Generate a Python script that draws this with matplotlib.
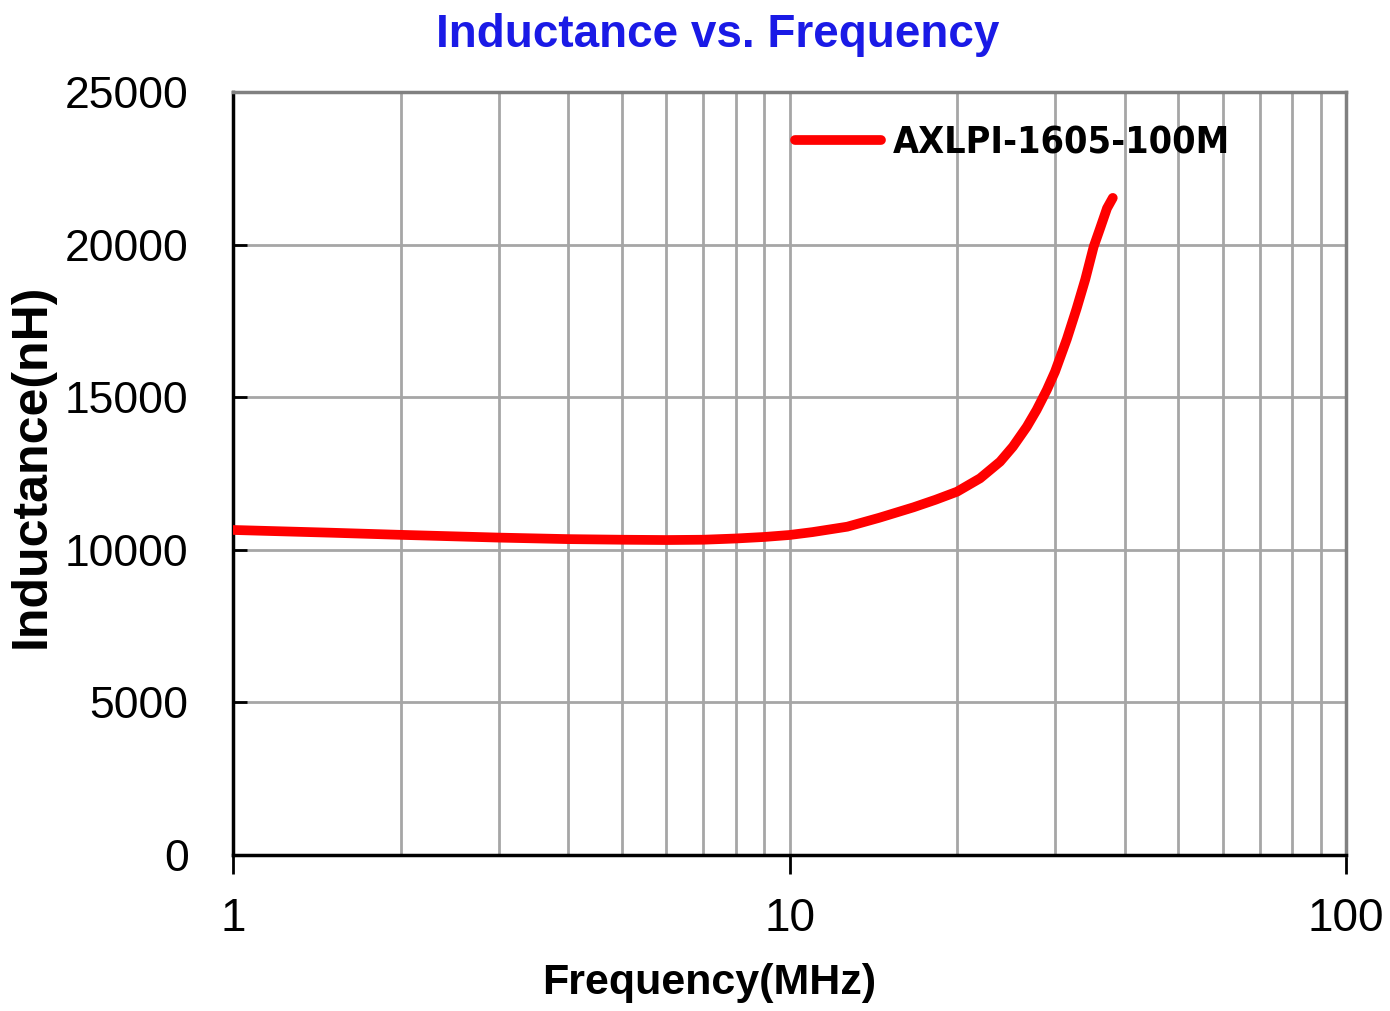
import matplotlib
matplotlib.use("Agg")
import matplotlib.pyplot as plt
from matplotlib.ticker import LogLocator, FixedLocator, NullFormatter, FixedFormatter

# ---- data ----
freq_mhz = [1, 1.5, 2, 3, 4, 5, 6, 7, 8, 9, 10, 11, 12.7, 14.5, 16.7, 18.3, 20,
            22, 23.9, 25.2, 26.7, 27.8, 29, 30, 31.5, 32.8, 34, 35.2, 36.1,
            37.2, 38.1]
inductance_nh = [10650, 10560, 10490, 10400, 10350, 10330, 10320, 10330, 10370,
                 10420, 10485, 10580, 10757, 11050, 11392, 11640, 11904, 12342,
                 12887, 13378, 14034, 14581, 15236, 15836, 16900, 17900, 18860,
                 19930, 20500, 21190, 21530]
series_name = "AXLPI-1605-100M"
x_ticks = [1, 10, 100]
x_tick_labels = ["1", "10", "100"]
y_ticks = [0, 5000, 10000, 15000, 20000, 25000]
y_tick_labels = ["0", "5000", "10000", "15000", "20000", "25000"]

sans = ["Liberation Sans", "DejaVu Sans"]

fig = plt.figure(figsize=(13.9, 10.11), dpi=100)
ax = fig.add_axes([233/1390, 1 - 855/1011, (1346-233)/1390, (855-92)/1011])

ax.plot(freq_mhz, inductance_nh, color="#ff0000", lw=7, solid_capstyle="round",
        solid_joinstyle="round", label=series_name, zorder=3)

ax.set_xscale("log")
ax.set_xlim(1, 100)
ax.set_ylim(0, 25000)
ax.xaxis.set_major_locator(FixedLocator(x_ticks))
ax.xaxis.set_major_formatter(FixedFormatter(x_tick_labels))
ax.xaxis.set_minor_locator(LogLocator(base=10, subs=range(2, 10)))
ax.xaxis.set_minor_formatter(NullFormatter())
ax.yaxis.set_major_locator(FixedLocator(y_ticks))
ax.yaxis.set_major_formatter(FixedFormatter(y_tick_labels))

ax.grid(True, which="both", axis="x", color="#a6a6a6", lw=2)
ax.grid(True, which="major", axis="y", color="#a6a6a6", lw=2)
ax.set_axisbelow(True)

for s in ["left", "bottom"]:
    ax.spines[s].set_color("black")
    ax.spines[s].set_linewidth(2.5)
for s in ["top", "right"]:
    ax.spines[s].set_color("#808080")
    ax.spines[s].set_linewidth(2.5)

ax.tick_params(axis="x", which="major", direction="out", length=14, width=2,
               pad=16, labelsize=33)
ax.tick_params(axis="x", which="minor", length=0)
ax.tick_params(axis="y", which="major", direction="in", length=10, width=2,
               pad=32, labelsize=32)
for lab in ax.get_xticklabels() + ax.get_yticklabels():
    lab.set_family(sans)

ax.text(0.428, -0.168, "Frequency(MHz)", transform=ax.transAxes, ha="center",
        va="center", fontsize=31, fontweight="bold", family=sans)
ax.text(-0.181, 0.51, "Inductance(nH)", transform=ax.transAxes, ha="center",
        va="center", rotation=90, fontsize=36, fontweight="bold", family=sans)
fig.text(718/1390, 1 - 35/1011, "Inductance vs. Frequency", ha="center",
         va="center", fontsize=33, fontweight="bold", color="#1a1ae6",
         family=sans)

leg = ax.legend(loc="center left", bbox_to_anchor=(0.505, 0.933), frameon=False,
                borderpad=0, borderaxespad=0, handlelength=2.3,
                handletextpad=0.3,
                prop={"family": "DejaVu Sans", "weight": "bold", "size": 27,
                      "stretch": "condensed"})

fig.savefig("out.png", dpi=100, facecolor="white")
